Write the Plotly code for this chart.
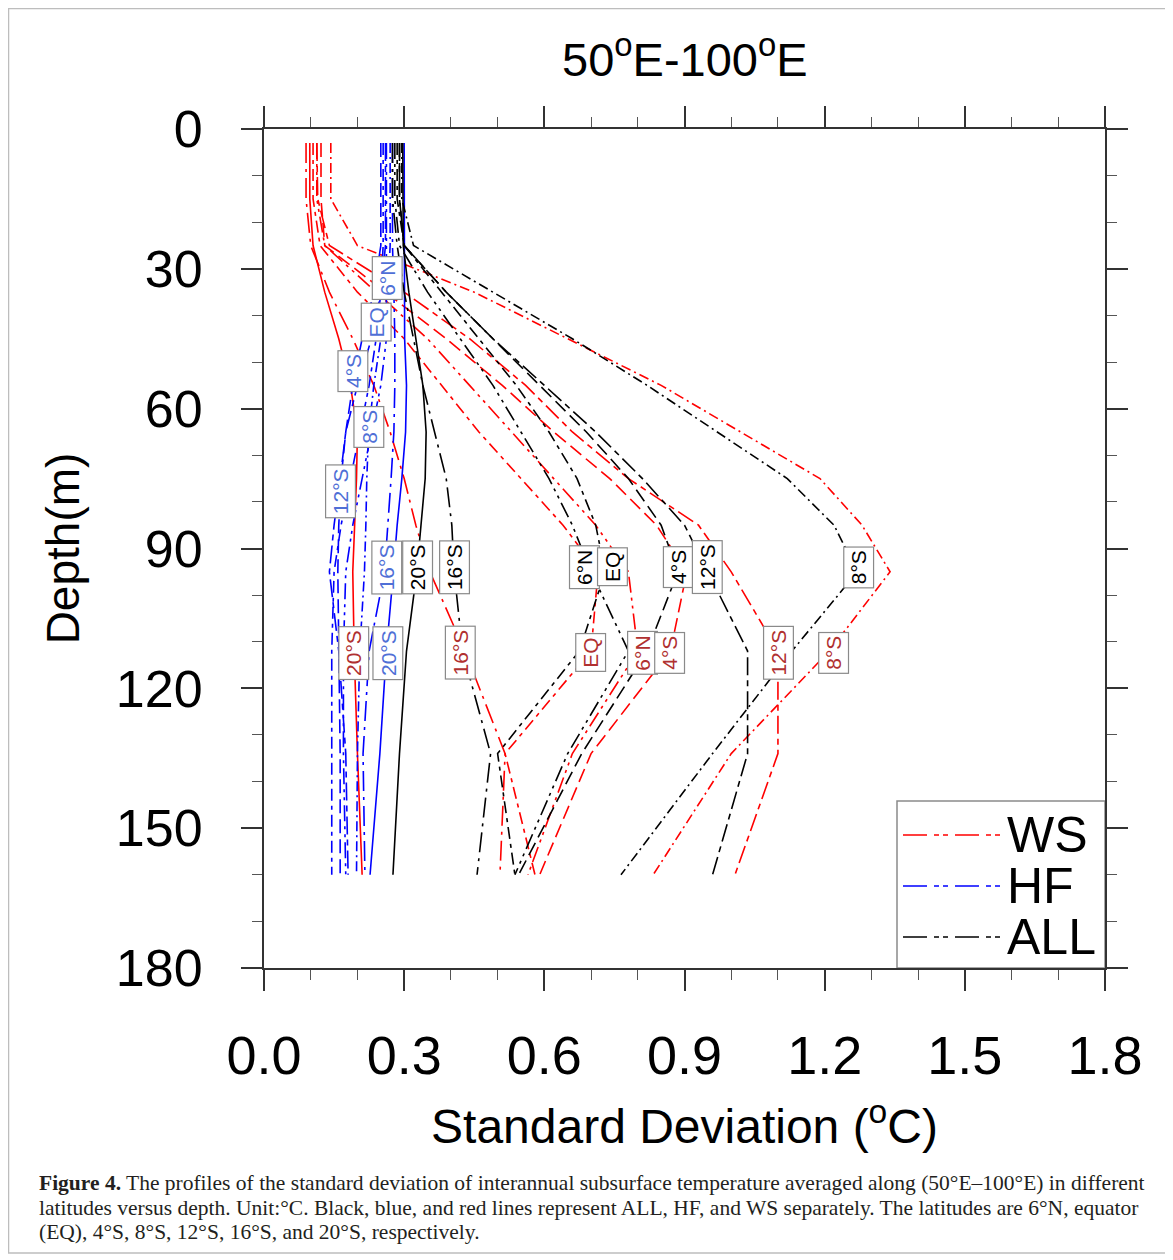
import plotly.graph_objects as go

# ---------------- data ----------------
depth = [3, 15, 25, 35, 45, 55, 65, 75, 85, 95, 112, 134, 160]
lats = ["6°N", "EQ", "4°S", "8°S", "12°S", "16°S", "20°S"]

ws = {
    "6°N": [0.113, 0.113, 0.13, 0.24, 0.35, 0.44, 0.53, 0.62, 0.71, 0.78, 0.80, 0.66, 0.565],
    "EQ":  [0.105, 0.105, 0.12, 0.20, 0.30, 0.38, 0.46, 0.55, 0.64, 0.715, 0.70, 0.516, 0.58],
    "4°S": [0.122, 0.122, 0.13, 0.26, 0.39, 0.51, 0.62, 0.74, 0.84, 0.905, 0.87, 0.70, 0.59],
    "8°S": [0.143, 0.143, 0.20, 0.45, 0.65, 0.85, 1.02, 1.19, 1.28, 1.34, 1.21, 1.00, 0.833],
    "12°S": [0.113, 0.115, 0.14, 0.30, 0.44, 0.56, 0.66, 0.78, 0.93, 1.00, 1.10, 1.10, 1.008],
    "16°S": [0.09, 0.09, 0.10, 0.14, 0.19, 0.235, 0.27, 0.30, 0.325, 0.355, 0.43, 0.516, 0.505],
    "20°S": [0.098, 0.098, 0.105, 0.13, 0.16, 0.185, 0.20, 0.198, 0.194, 0.19, 0.193, 0.20, 0.21],
}
hf = {
    "6°N": [0.262, 0.262, 0.262, 0.263, 0.262, 0.25, 0.23, 0.21, 0.19, 0.175, 0.17, 0.17, 0.175],
    "EQ":  [0.255, 0.255, 0.255, 0.25, 0.24, 0.225, 0.205, 0.185, 0.165, 0.15, 0.145, 0.145, 0.145],
    "4°S": [0.25, 0.25, 0.25, 0.235, 0.21, 0.19, 0.175, 0.165, 0.16, 0.158, 0.16, 0.163, 0.163],
    "8°S": [0.27, 0.27, 0.27, 0.265, 0.25, 0.235, 0.224, 0.22, 0.218, 0.215, 0.205, 0.20, 0.198],
    "12°S": [0.26, 0.26, 0.26, 0.25, 0.23, 0.20, 0.175, 0.163, 0.15, 0.14, 0.16, 0.175, 0.18],
    "16°S": [0.275, 0.275, 0.275, 0.278, 0.28, 0.28, 0.278, 0.272, 0.265, 0.258, 0.225, 0.212, 0.216],
    "20°S": [0.30, 0.30, 0.30, 0.30, 0.301, 0.305, 0.303, 0.295, 0.285, 0.277, 0.262, 0.248, 0.227],
}
all_ = {
    "6°N": [0.28, 0.28, 0.29, 0.35, 0.42, 0.49, 0.55, 0.61, 0.66, 0.70, 0.78, 0.65, 0.537],
    "EQ":  [0.285, 0.285, 0.30, 0.38, 0.46, 0.54, 0.61, 0.67, 0.71, 0.73, 0.675, 0.50, 0.537],
    "4°S": [0.29, 0.29, 0.30, 0.39, 0.49, 0.59, 0.69, 0.78, 0.85, 0.886, 0.82, 0.68, 0.545],
    "8°S": [0.295, 0.295, 0.32, 0.49, 0.66, 0.82, 0.97, 1.12, 1.22, 1.27, 1.13, 0.96, 0.764],
    "12°S": [0.29, 0.29, 0.30, 0.39, 0.49, 0.60, 0.71, 0.81, 0.90, 0.95, 1.035, 1.035, 0.96],
    "16°S": [0.275, 0.275, 0.285, 0.30, 0.32, 0.34, 0.365, 0.39, 0.402, 0.407, 0.425, 0.485, 0.456],
    "20°S": [0.297, 0.297, 0.298, 0.31, 0.325, 0.34, 0.347, 0.345, 0.336, 0.327, 0.305, 0.29, 0.276],
}

# label positions (x value, depth) for each series
hf_labels = {"6°N": (0.263, 32), "EQ": (0.24, 41.5), "4°S": (0.19, 52), "8°S": (0.224, 64),
             "12°S": (0.163, 77.7), "16°S": (0.262, 94), "20°S": (0.266, 112.4)}
all_labels = {"20°S": (0.328, 94), "16°S": (0.407, 94), "6°N": (0.685, 94), "EQ": (0.745, 94),
              "4°S": (0.886, 94), "12°S": (0.948, 94), "8°S": (1.272, 94)}
ws_labels = {"20°S": (0.193, 112.4), "16°S": (0.421, 112.4), "EQ": (0.70, 112.4), "6°N": (0.811, 112.4),
             "4°S": (0.869, 112.4), "12°S": (1.102, 112.4), "8°S": (1.22, 112.4)}

x_ticks = [0.0, 0.3, 0.6, 0.9, 1.2, 1.5, 1.8]
y_ticks = [0, 30, 60, 90, 120, 150, 180]
legend_names = ["WS", "HF", "ALL"]

# ---------------- styles ----------------
dashes = {"6°N": "16px,5px,3px,5px,3px,5px", "EQ": "12px,5px,4px,5px", "4°S": "14px,6px",
          "8°S": "10px,4px,2px,4px", "12°S": "18px,5px,6px,5px", "16°S": "20px,6px,3px,6px",
          "20°S": "solid"}
groups = [("WS", ws, "#ff0000", ws_labels, "#b03030"),
          ("HF", hf, "#0000ff", hf_labels, "#4f6fd6"),
          ("ALL", all_, "#000000", all_labels, "#000000")]

fig = go.Figure()
for name, data, col, labs, lcol in groups:
    for lat in lats:
        fig.add_trace(go.Scatter(x=data[lat], y=depth, mode="lines", name=f"{name} {lat}",
                                 line=dict(color=col, width=1.6, dash=dashes[lat]),
                                 showlegend=False, hoverinfo="skip"))

annotations = []
for name, data, col, labs, lcol in groups:
    for lat, (xv, dv) in labs.items():
        annotations.append(dict(x=xv, y=dv, xref="x", yref="y", text=lat, showarrow=False,
                                textangle=-90, font=dict(family="Liberation Sans", size=21, color=lcol),
                                bgcolor="white", bordercolor="#8a8a8a", borderwidth=1.2, borderpad=3))

# geometry helpers: screen coords (page has an 8px body margin) -> paper coords
L, R, T, B = 264, 1105, 129, 968
W, H = 1160, 1248
def px(xs):
    return (xs - L) / (R - L)
def py(ys):
    return (B - ys) / (B - T)

annotations.append(dict(x=px(685), y=py(56), xref="paper", yref="paper", showarrow=False,
                        xanchor="center", yanchor="middle",
                        text="50<sup>o</sup>E-100<sup>o</sup>E",
                        font=dict(family="Liberation Sans", size=47, color="black")))

caption_lines = [
    "<b>Figure 4.</b> The profiles of the standard deviation of interannual subsurface temperature averaged along (50°E–100°E) in different",
    "latitudes versus depth. Unit:°C. Black, blue, and red lines represent ALL, HF, and WS separately. The latitudes are 6°N, equator",
    "(EQ), 4°S, 8°S, 12°S, 16°S, and 20°S, respectively.",
]
for i, line in enumerate(caption_lines):
    annotations.append(dict(x=px(37), y=py(1183 + 24.5 * i), xref="paper", yref="paper", showarrow=False,
                            xanchor="left", yanchor="middle", align="left", text=line,
                            font=dict(family="Liberation Serif", size=21.5, color="#231f20")))

# legend (drawn manually to match the reference box)
leg_cols = {"WS": "#ff0000", "HF": "#0000ff", "ALL": "#000000"}
leg_y = {"WS": 835, "HF": 886, "ALL": 937}
shapes = [
    dict(type="rect", xref="paper", yref="paper", x0=px(8.5), x1=px(1166), y0=py(1253), y1=py(8.5),
         line=dict(color="#bdbdbd", width=1.5), layer="below"),
    dict(type="rect", xref="paper", yref="paper", x0=px(897), x1=px(1105), y0=py(968), y1=py(801),
         line=dict(color="#8a8a8a", width=1.5), fillcolor="white", layer="below"),
]
for nm in legend_names:
    shapes.append(dict(type="line", xref="paper", yref="paper", x0=px(903), x1=px(1001),
                       y0=py(leg_y[nm]), y1=py(leg_y[nm]),
                       line=dict(color=leg_cols[nm], width=1.6, dash="24px,7px,5px,4px,5px,7px")))
    annotations.append(dict(x=px(1005), y=py(leg_y[nm]), xref="paper", yref="paper", showarrow=False,
                            xanchor="left", yanchor="middle", text=nm,
                            font=dict(family="Liberation Sans", size=50, color="black")))

fig.update_layout(
    width=W, height=H,
    margin=dict(l=L - 8, r=W - (R - 8), t=T - 8, b=H - (B - 8)),
    paper_bgcolor="white", plot_bgcolor="white",
    showlegend=False,
    annotations=annotations,
    shapes=shapes,
)
axis_common = dict(showline=True, linecolor="#333", linewidth=2, mirror="allticks",
                   ticks="outside", ticklen=21, tickwidth=1.5, tickcolor="#333",
                   showgrid=False, zeroline=False)
fig.update_xaxes(range=[0, 1.8], tickvals=x_ticks, ticktext=[f"{v:.1f}" for v in x_ticks],
                 tickfont=dict(family="Liberation Sans", size=54, color="black"),
                 minor=dict(dtick=0.1, ticklen=10, tickwidth=1.2, tickcolor="#555", ticks="outside"),
                 title=dict(text="Standard Deviation (<sup>o</sup>C)", standoff=26,
                            font=dict(family="Liberation Sans", size=48, color="black")),
                 ticklabelstandoff=18, **axis_common)
fig.update_yaxes(range=[180, 0], tickvals=y_ticks,
                 tickfont=dict(family="Liberation Sans", size=52, color="black"),
                 minor=dict(dtick=10, ticklen=10, tickwidth=1.2, tickcolor="#555", ticks="outside"),
                 title=dict(text="Depth(m)", standoff=22,
                            font=dict(family="Liberation Sans", size=46, color="black")),
                 ticklabelstandoff=28, **axis_common)

fig.write_html("out.html")
